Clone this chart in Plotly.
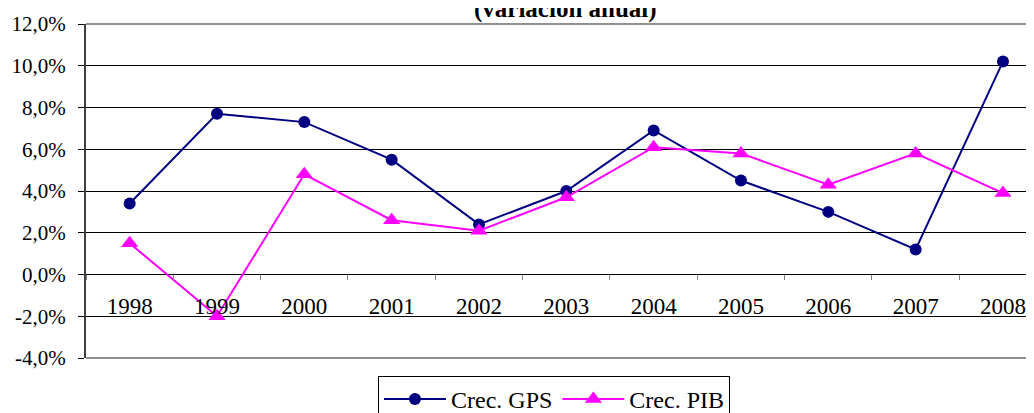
import plotly.graph_objects as go

years = ["1998", "1999", "2000", "2001", "2002", "2003", "2004", "2005", "2006", "2007", "2008"]
gps = [3.4, 7.7, 7.3, 5.5, 2.4, 4.0, 6.9, 4.5, 3.0, 1.2, 10.2]
pib = [1.5, -2.0, 4.8, 2.6, 2.1, 3.7, 6.1, 5.8, 4.3, 5.8, 3.9]
y_ticks = [-4, -2, 0, 2, 4, 6, 8, 10, 12]
y_labels = ["-4,0%", "-2,0%", "0,0%", "2,0%", "4,0%", "6,0%", "8,0%", "10,0%", "12,0%"]
title_text = "(variación anual)"

FONT = "Liberation Serif"
L, T, H, W = 78, 16, 334, 956

fig = go.Figure()
fig.add_trace(go.Scatter(
    x=years, y=gps, name="Crec. GPS", mode="lines+markers",
    line=dict(color="#000080", width=2),
    marker=dict(symbol="circle", size=12, color="#000080"),
))
fig.add_trace(go.Scatter(
    x=years, y=pib, name="Crec. PIB", mode="lines+markers",
    line=dict(color="#FF00FF", width=2),
    marker=dict(symbol="triangle-up", size=15, color="#FF00FF"),
))

fig.update_layout(
    width=1034, height=413,
    margin=dict(l=L, r=0, t=T, b=413 - T - H, autoexpand=False),
    paper_bgcolor="white", plot_bgcolor="white",
    font=dict(family=FONT, size=23, color="black"),
    showlegend=True,
    legend=dict(
        orientation="h", x=(370 - L) / W, xanchor="left", y=-18 / H, yanchor="top",
        bordercolor="black", borderwidth=1, font=dict(family=FONT, size=24),
        itemwidth=62, tracegroupgap=0,
    ),
    xaxis=dict(
        type="category", categoryorder="array", categoryarray=years,
        range=[-0.5, -0.5 + W / 87.33], anchor="free", position=84 / H,
        tickson="boundaries", ticks="outside", ticklen=5, tickcolor="#808080",
        showgrid=False, showline=False, zeroline=False, automargin=False,
        ticklabelstandoff=16,
        tickfont=dict(family=FONT, size=23),
    ),
    yaxis=dict(
        range=[-4, 12], tickvals=y_ticks, ticktext=y_labels,
        showgrid=True, gridcolor="black", gridwidth=1,
        zeroline=False, showline=True, linecolor="#404040", linewidth=2,
        ticks="outside", ticklen=6, tickcolor="black", automargin=False,
        ticklabelstandoff=8,
        tickfont=dict(family=FONT, size=21),
    ),
    annotations=[dict(
        text="<b>" + title_text + "</b>", xref="paper", yref="paper",
        x=(557 - L) / W, y=1 + 15 / H, xanchor="center", yanchor="middle",
        showarrow=False, font=dict(family=FONT, size=25, color="black"),
    )],
    shapes=[
        dict(type="line", xref="paper", yref="paper", x0=0, x1=1.02, y0=1, y1=1,
             line=dict(color="#909090", width=2), layer="above"),
        dict(type="line", xref="paper", yref="paper", x0=0, x1=1.02, y0=0, y1=0,
             line=dict(color="#909090", width=2), layer="above"),
    ],
)

fig.write_html("out.html")
